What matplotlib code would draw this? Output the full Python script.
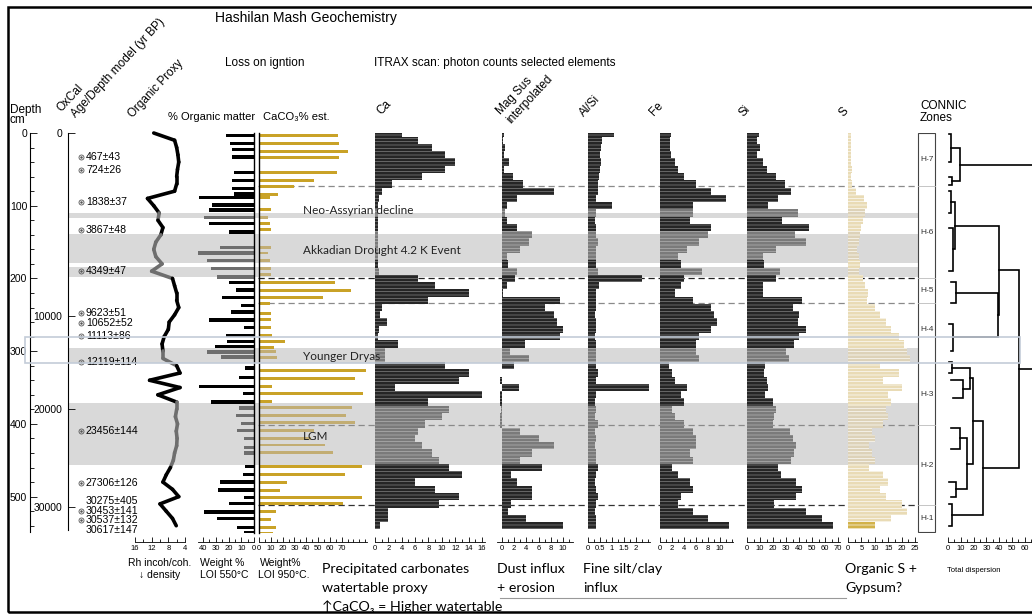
import numpy as np
import matplotlib.pyplot as plt
from matplotlib.patches import Rectangle
from matplotlib.collections import LineCollection
from matplotlib.ticker import MultipleLocator

plt.rcParams['font.family'] = ['Liberation Sans', 'DejaVu Sans']
plt.rcParams['hatch.linewidth'] = 0.45

W, H = 1032, 615
TOP, BOT = 133, 533      # pixel rows of 0 cm and DMAX cm
DMAX = 550

# ---- ITRAX / proxy series on a 10 cm grid ----
depth = np.arange(0, 550, 10)
rh = [11.5, 6.5, 6.0, 5.7, 5.5, 5.8, 6.0, 6.0, 6.5, 13.0,
      11.5, 10.2, 10.5, 9.3, 9.8, 11.0, 11.5, 11.0, 9.5, 12.0,
      7.0, 6.5, 6.0, 6.0, 5.5, 6.5, 7.8, 8.0, 9.0, 9.5,
      9.3, 9.3, 6.0, 5.2, 12.5, 5.2, 10.5, 6.0, 6.0, 6.3,
      5.8, 6.1, 5.9, 6.0, 6.5, 6.8, 7.5, 8.5, 9.3, 7.0,
      5.5, 10.0, 8.5, 7.0, 6.1]
ca = [4.0, 6.5, 8.5, 10.5, 12.0, 10.5, 7.0, 2.5, 1.0, 0.6,
      0.5, 0.4, 0.4, 0.4, 0.5, 0.5, 0.4, 0.4, 0.5, 0.6,
      6.5, 9.0, 14.0, 8.0, 1.0, 0.8, 1.8, 0.6, 0.5, 3.5,
      1.5, 1.5, 10.5, 14.0, 12.5, 3.0, 16.0, 8.0, 11.0, 10.0,
      7.5, 6.5, 6.0, 7.0, 8.5, 9.5, 11.0, 13.0, 6.0, 9.0,
      12.5, 9.5, 2.0, 2.0, 0.8]
magsus = [0.3, 0.2, 0.5, 0.3, 1.2, 0.4, 1.8, 3.5, 8.5, 2.5,
          0.8, 0.5, 0.8, 2.5, 5.0, 4.5, 3.0, 0.8, 1.0, 2.5,
          2.2, 0.8, 0.2, 9.5, 7.0, 8.5, 9.0, 10.0, 9.5, 3.8,
          1.3, 4.5, 2.0, 0.0, -0.3, 2.8, -0.3, -0.3, -0.2, -0.3,
          -0.3, 3.0, 6.0, 8.5, 5.0, 3.0, 6.5, 1.5, 2.5, 5.0,
          5.0, 1.5, 1.0, 4.0, 10.0]
alsi = [1.1, 0.6, 0.55, 0.5, 0.55, 0.5, 0.45, 0.4, 0.4, 0.35,
        1.0, 0.35, 0.3, 0.35, 0.35, 0.4, 0.35, 0.35, 0.35, 0.4,
        2.25, 0.45, 0.35, 0.35, 0.35, 0.3, 0.35, 0.35, 0.3, 0.35,
        0.35, 0.35, 0.35, 0.4, 0.35, 2.55, 0.35, 0.3, 0.35, 0.3,
        0.4, 0.3, 0.35, 0.3, 0.35, 0.35, 0.4, 0.35, 0.3, 0.35,
        0.4, 0.35, 0.3, 0.35, 0.35]
fe = [1.8, 1.6, 1.6, 1.8, 2.5, 3.0, 4.0, 6.0, 8.5, 11.0,
      5.5, 5.5, 5.0, 8.5, 8.0, 6.5, 4.5, 3.0, 3.5, 7.0,
      4.0, 3.5, 2.5, 5.5, 8.5, 9.0, 9.5, 8.5, 6.5, 6.0,
      6.0, 6.5, 1.5, 2.0, 2.5, 4.5, 3.5, 4.0, 2.0, 2.5,
      4.0, 5.5, 6.0, 6.0, 5.0, 5.5, 2.0, 3.0, 5.0, 5.5,
      3.5, 3.0, 5.5, 8.0, 11.5]
si = [9, 8, 10, 8, 12, 15, 22, 29, 34, 24,
      16, 39, 27, 48, 37, 45, 22, 12, 13, 25,
      22, 12, 12, 42, 35, 40, 39, 45, 40, 36,
      30, 32, 14, 13, 15, 16, 14, 20, 22, 21,
      20, 33, 35, 38, 36, 34, 24, 26, 38, 42,
      38, 21, 45, 58, 66]
s = [1.0, 1.0, 1.2, 1.0, 1.2, 1.5, 1.2, 1.5, 3.0, 6.0,
     7.0, 6.5, 5.5, 5.0, 4.5, 4.0, 3.5, 4.0, 4.5, 4.0,
     5.5, 6.5, 7.5, 7.0, 10.0, 12.0, 14.0, 16.0, 19.0, 21.0,
     22.0, 23.0, 12.0, 19.0, 13.0, 20.0, 15.0, 16.0, 14.0, 15.0,
     13.0, 9.0, 10.0, 8.0, 9.0, 10.0, 8.0, 13.0, 15.0, 12.0,
     14.0, 20.0, 22.0, 16.0, 10.0]

# ---- loss on ignition samples ----
om_depth = [3, 14, 23, 33, 54, 65, 76, 84, 89, 99, 106, 116, 124, 136, 157, 165, 175, 186,
            198, 206, 216, 226, 237, 246, 257, 267, 278, 287, 294, 301, 308, 323, 336, 349,
            358, 370, 378, 388, 399, 409, 420, 432, 440, 459, 470, 480, 491, 501, 509, 521,
            530, 542, 550]
om_val = [22, 19, 17, 17, 16, 17, 17, 16, 43, 33, 35, 39, 35, 20, 27, 45, 37, 34,
          29, 20, 14, 25, 10, 18, 35, 8, 22, 21, 31, 37, 26, 7, 12, 43,
          9, 34, 12, 14, 10, 13, 8, 8, 8, 7, 9, 27, 28, 8, 20, 39,
          29, 13, 8]
cc_depth = [3, 14, 25, 34, 54, 65, 74, 84, 89, 105, 116, 124, 133, 157, 165, 175, 186, 195,
            206, 216, 226, 234, 248, 257, 267, 278, 287, 295, 301, 309, 326, 337, 348, 358,
            369, 377, 388, 398, 409, 420, 429, 439, 459, 469, 480, 491, 501, 510, 521, 531,
            542, 550]
cc_val = [67, 68, 75, 68, 66, 47, 30, 16, 9, 10, 8, 9, 10, 10, 8, 9, 10, 10,
          64, 78, 54, 9, 10, 10, 10, 11, 22, 13, 14, 15, 91, 81, 11, 88,
          11, 79, 74, 81, 47, 44, 56, 63, 87, 73, 24, 18, 87, 71, 14, 10,
          14, 12]

# ---- climatic events (grey bands) and CONNIC zones ----
band_top = [110, 139, 184, 296, 371]
band_bot = [117, 179, 198, 316, 456]
band_text = ['Neo-Assyrian decline', 'Akkadian Drought 4.2 K Event', 'Younger Dryas', 'LGM']
band_text_depth = [107, 161, 307, 418]
zone_bounds = [73, 200, 234, 402, 512]
zone_line_col = ['#8a8a8a', '#222222', '#8a8a8a', '#8a8a8a', '#333333']
zone_names = ['H-7', 'H-6', 'H-5', 'H-4', 'H-3', 'H-2', 'H-1']
zone_mid = [36, 137, 217, 270, 360, 457, 530]

# ---- radiocarbon dates and age model ----
dates = ['467±43', '724±26', '1838±37', '3867±48', '4349±47', '9623±51', '10652±52',
         '11113±86', '12119±114', '23456±144', '27306±126', '30275±405', '30453±141',
         '30537±132', '30617±147']
date_depth = [33, 51, 95, 133, 190, 248, 261, 279, 315, 410, 481, 506, 520, 532, 546]
date_mark = [1, 1, 1, 1, 1, 1, 1, 1, 1, 1, 1, 0, 1, 1, 0]
age_ticks = [0, 10000, 20000, 30000]
age_tick_depth = [0, 252, 380, 514]

# ---- CONISS dendrogram links: child depths, link height, child heights ----
lk_da = [2, 60, 21, 80, 130, 95, 205, 262, 219.5, 127.5, 315, 340, 322.5, 405, 480, 420, 337.5, 510, 396, 189, 43.5]
lk_db = [40, 72, 66, 110, 190, 160, 234, 300, 281, 250, 330, 365, 352.5, 435, 500, 490, 455, 540, 525, 460.5, 325]
lk_h = [2.3, 3.0, 9.4, 2.5, 4.0, 5.5, 6.0, 4.0, 39, 40, 3, 12, 17, 9, 6, 15, 19.5, 3.5, 27, 55.5, 90]
lk_ha = [0.5, 0.5, 2.3, 0.5, 0.8, 2.5, 2.0, 1.0, 6.0, 5.5, 0.5, 2, 3, 2, 1, 9, 17, 1, 19.5, 40, 9.4]
lk_hb = [0.8, 0.5, 3.0, 0.5, 0.8, 4.0, 2.0, 2.0, 4.0, 39, 0.5, 4, 12, 2, 2, 6, 15, 1, 3.5, 27, 55.5]


def in_band(d):
    return any(t <= d <= b for t, b in zip(band_top, band_bot))


def rect(x0, x1):
    return [x0 / W, 1 - BOT / H, (x1 - x0) / W, (BOT - TOP) / H]


def ftxt(x, y, txt, **kw):
    return fig.text(x / W, 1 - y / H, txt, **kw)


fig = plt.figure(figsize=(W / 100, H / 100), dpi=100)

# background overlay in pixel x / depth y
bg = fig.add_axes(rect(0, W))
bg.set_xlim(0, W)
bg.set_ylim(DMAX, 0)
bg.axis('off')
for t, b in zip(band_top, band_bot):
    bg.add_patch(Rectangle((68, t), 918 - 68, b - t, color='#d9d9d9', lw=0))
for d, c in zip(zone_bounds, zone_line_col):
    bg.plot([258, 918], [d, d], color=c, lw=0.9, ls=(0, (5, 3)))
# zone column
bg.add_patch(Rectangle((918, 0), 17, 549, fill=False, ec='#444444', lw=0.8))
for d in zone_bounds:
    bg.plot([918, 935], [d, d], color='#bbbbbb', lw=0.6)
for n, d in zip(zone_names, zone_mid):
    bg.text(920, d, n, fontsize=6, va='center', color='#333333')

# date labels
for lab, d, m in zip(dates, date_depth, date_mark):
    bg.text(86, d, lab, fontsize=7.6, va='center', ha='left')
    if m:
        bg.plot(81, d, 'o', ms=3.6, mfc='none', mec='#555555', mew=0.6)
        bg.plot(81, d, '.', ms=1.6, color='#555555')


def panel(x0, x1, lo, hi):
    ax = fig.add_axes(rect(x0, x1))
    ax.set_xlim(lo, hi)
    ax.set_ylim(DMAX, 0)
    ax.patch.set_alpha(0)
    for sp in ['top', 'left', 'right']:
        ax.spines[sp].set_visible(False)
    ax.spines['bottom'].set_position(('outward', 6.5))
    ax.spines['bottom'].set_linewidth(0.6)
    ax.set_yticks([])
    ax.tick_params(axis='x', which='both', direction='in', labelsize=5.5, pad=2, width=0.6)
    ax.tick_params(axis='x', which='major', length=3.5)
    ax.tick_params(axis='x', which='minor', length=2)
    return ax


def itrax(ax, vals, col='#262626', bcol='#7a7a7a', hcol='#8c8c8c', bhcol='#b8b8b8'):
    fc = [bcol if in_band(d) else col for d in depth]
    ec = [bhcol if in_band(d) else hcol for d in depth]
    ax.barh(depth, vals, height=10, color=fc, edgecolor=ec, hatch='-----', linewidth=0)


# depth axis
axd = fig.add_axes(rect(30, 31))
axd.set_ylim(DMAX, 0)
for sp in ['top', 'right', 'bottom']:
    axd.spines[sp].set_visible(False)
axd.spines['left'].set_bounds(0, 548)
axd.spines['left'].set_linewidth(0.8)
axd.set_xticks([])
axd.set_yticks(range(0, 501, 100))
axd.yaxis.set_minor_locator(MultipleLocator(20))
axd.tick_params(axis='y', which='both', direction='in', labelsize=7.5, pad=2, width=0.6)
axd.tick_params(axis='y', which='major', length=5)
axd.tick_params(axis='y', which='minor', length=3)
axd.patch.set_alpha(0)

# age axis
axa = fig.add_axes(rect(68, 69))
axa.set_ylim(DMAX, 0)
for sp in ['top', 'right', 'bottom']:
    axa.spines[sp].set_visible(False)
axa.spines['left'].set_bounds(0, 546)
axa.spines['left'].set_linewidth(0.8)
axa.set_xticks([])
axa.set_yticks(age_tick_depth, labels=[str(a) for a in age_ticks])
axa.tick_params(axis='y', direction='in', length=5, width=0.6, labelsize=7.5, pad=4)
axa.patch.set_alpha(0)

# organic proxy
axr = panel(135, 185, 16, 4)
segs = [[(rh[i], depth[i]), (rh[i + 1], depth[i + 1])] for i in range(len(depth) - 1)]
scol = ['#6e6e6e' if in_band((depth[i] + depth[i + 1]) / 2) else 'black' for i in range(len(depth) - 1)]
axr.add_collection(LineCollection(segs, colors=scol, linewidths=2.6, capstyle='round', clip_on=False))
axr.set_xticks([16, 12, 8, 4])
axr.xaxis.set_minor_locator(MultipleLocator(2))

# % organic matter (LOI 550)
axo = panel(198, 254, 44, 0)
axo.barh(om_depth, om_val, height=4.5, color=['#6e6e6e' if in_band(d) else 'black' for d in om_depth])
axo.spines['right'].set_visible(True)
axo.spines['right'].set_linewidth(1)
axo.set_xticks([40, 30, 20, 10, 0])
axo.xaxis.set_minor_locator(MultipleLocator(5))

# CaCO3 (LOI 950)
axc = panel(259, 367, 0, 91.5)
axc.barh(cc_depth, cc_val, height=4, color=['#c2ad73' if in_band(d) else '#c9a227' for d in cc_depth])
axc.spines['left'].set_visible(True)
axc.spines['left'].set_linewidth(1)
axc.set_xticks(range(0, 71, 10))
axc.set_xticks(range(0, 91, 5), minor=True)

# ITRAX elements
ax_ca = panel(375, 485, 0, 16.45)
itrax(ax_ca, ca)
ax_ca.set_xticks(range(0, 17, 2))
ax_ca.xaxis.set_minor_locator(MultipleLocator(1))

ax_ms = panel(497, 573, -0.82, 11.64)
itrax(ax_ms, magsus)
ax_ms.set_xticks(range(0, 11, 2))
ax_ms.xaxis.set_minor_locator(MultipleLocator(1))

ax_al = panel(588, 650, 0, 2.58)
itrax(ax_al, alsi)
ax_al.set_xticks([0, 0.5, 1, 1.5, 2], labels=['0', '0.5', '1', '1.5', '2'])
ax_al.xaxis.set_minor_locator(MultipleLocator(0.25))

ax_fe = panel(660, 733, 0, 12.17)
itrax(ax_fe, fe)
ax_fe.set_xticks(range(0, 11, 2))
ax_fe.xaxis.set_minor_locator(MultipleLocator(1))

ax_si = panel(747, 840, 0, 71.5)
itrax(ax_si, si)
ax_si.set_xticks(range(0, 71, 10))
ax_si.xaxis.set_minor_locator(MultipleLocator(5))

ax_s = panel(848, 917, 0, 25.7)
s_fc = ['#ddd2b8' if in_band(d) else '#e9dbb5' for d in depth]
s_fc[-1] = '#d2b24a'
ax_s.barh(depth, s, height=10, color=s_fc, edgecolor='white', hatch='-----', linewidth=0)
ax_s.set_xticks(range(0, 26, 5))
ax_s.xaxis.set_minor_locator(MultipleLocator(2.5))

# dendrogram
ax_dn = panel(948, 1032, 0, 65.6)
for da, db, h, ha, hb in zip(lk_da, lk_db, lk_h, lk_ha, lk_hb):
    ax_dn.plot([ha, h, h, hb], [da, da, db, db], color='black', lw=1.2, solid_joinstyle='miter')
ax_dn.set_xticks(range(0, 61, 10))
ax_dn.xaxis.set_minor_locator(MultipleLocator(5))

# top overlay: highlight box and event names
ov = fig.add_axes(rect(0, W), zorder=5)
ov.set_xlim(0, W)
ov.set_ylim(DMAX, 0)
ov.axis('off')
ov.add_patch(Rectangle((25, 281), 995, 35, fill=False, ec='#c3ccd8', lw=1.2))
for txt, d in zip(band_text, band_text_depth):
    ov.text(303, d, txt, fontsize=8.5, family=['Lato', 'DejaVu Sans'], va='center', color='#222222')

# headings
ftxt(215, 18, 'Hashilan Mash Geochemistry', fontsize=10, va='center')
ftxt(225, 63, 'Loss on igntion', fontsize=8.5, va='center')
ftxt(374, 63, 'ITRAX scan: photon counts selected elements', fontsize=8.5, va='center')
ftxt(10, 115, 'Depth\ncm', fontsize=8.5, va='center', linespacing=0.8)
ftxt(168, 117, '% Organic matter', fontsize=8, va='center')
ftxt(263, 117, 'CaCO₃% est.', fontsize=8, va='center')
ftxt(920, 112, 'CONNIC\nZones', fontsize=8.5, va='center', linespacing=1.0)
rot = dict(rotation=47, rotation_mode='anchor', ha='left', va='baseline', fontsize=8.5)
ftxt(62, 112, 'OxCal', **rot)
ftxt(76, 118, 'Age/Depth model (yr BP)', **rot)
ftxt(133, 118, 'Organic Proxy', **rot)
ftxt(381, 115, 'Ca', **rot)
ftxt(510, 123, 'Mag Sus\ninterpolated', **rot)
ftxt(584, 117, 'Al/Si', **rot)
ftxt(654, 116, 'Fe', **rot)
ftxt(743, 117, 'Si', **rot)
ftxt(844, 117, 'S', **rot)

# bottom captions
ftxt(160, 563, 'Rh incoh/coh.', fontsize=7.5, ha='center', va='center')
ftxt(160, 575, '↓ density', fontsize=7.5, ha='center', va='center')
ftxt(222, 563, 'Weight %', fontsize=7.5, ha='center', va='center')
ftxt(224, 575, 'LOI 550°C', fontsize=7.5, ha='center', va='center')
ftxt(260, 563, 'Weight%', fontsize=7.5, va='center')
ftxt(258, 575, 'LOI 950°C.', fontsize=7.5, va='center')
cal = dict(fontsize=10.2, va='center', family=['Lato', 'DejaVu Sans'])
ftxt(322, 569, 'Precipitated carbonates', **cal)
ftxt(322, 588, 'watertable proxy', **cal)
ftxt(322, 607, '↑CaCO₃ = Higher watertable', **cal)
ftxt(497, 569, 'Dust influx', **cal)
ftxt(497, 588, '+ erosion', **cal)
ftxt(583, 569, 'Fine silt/clay', **cal)
ftxt(583, 588, 'influx', **cal)
ftxt(845, 569, 'Organic S +', **cal)
ftxt(845, 588, 'Gypsum?', **cal)
ftxt(947, 570, 'Total dispersion', fontsize=5.5, va='center')
fig.add_artist(plt.Line2D([500 / W, 846 / W], [1 - 598 / H, 1 - 598 / H], color='#999999', lw=0.8))

# outer frame
fig.add_artist(Rectangle((8 / W, 1 - 612 / H), 1.2, 605 / H, transform=fig.transFigure,
                         fill=False, ec='black', lw=1.8))

fig.savefig('out.png', dpi=100)
